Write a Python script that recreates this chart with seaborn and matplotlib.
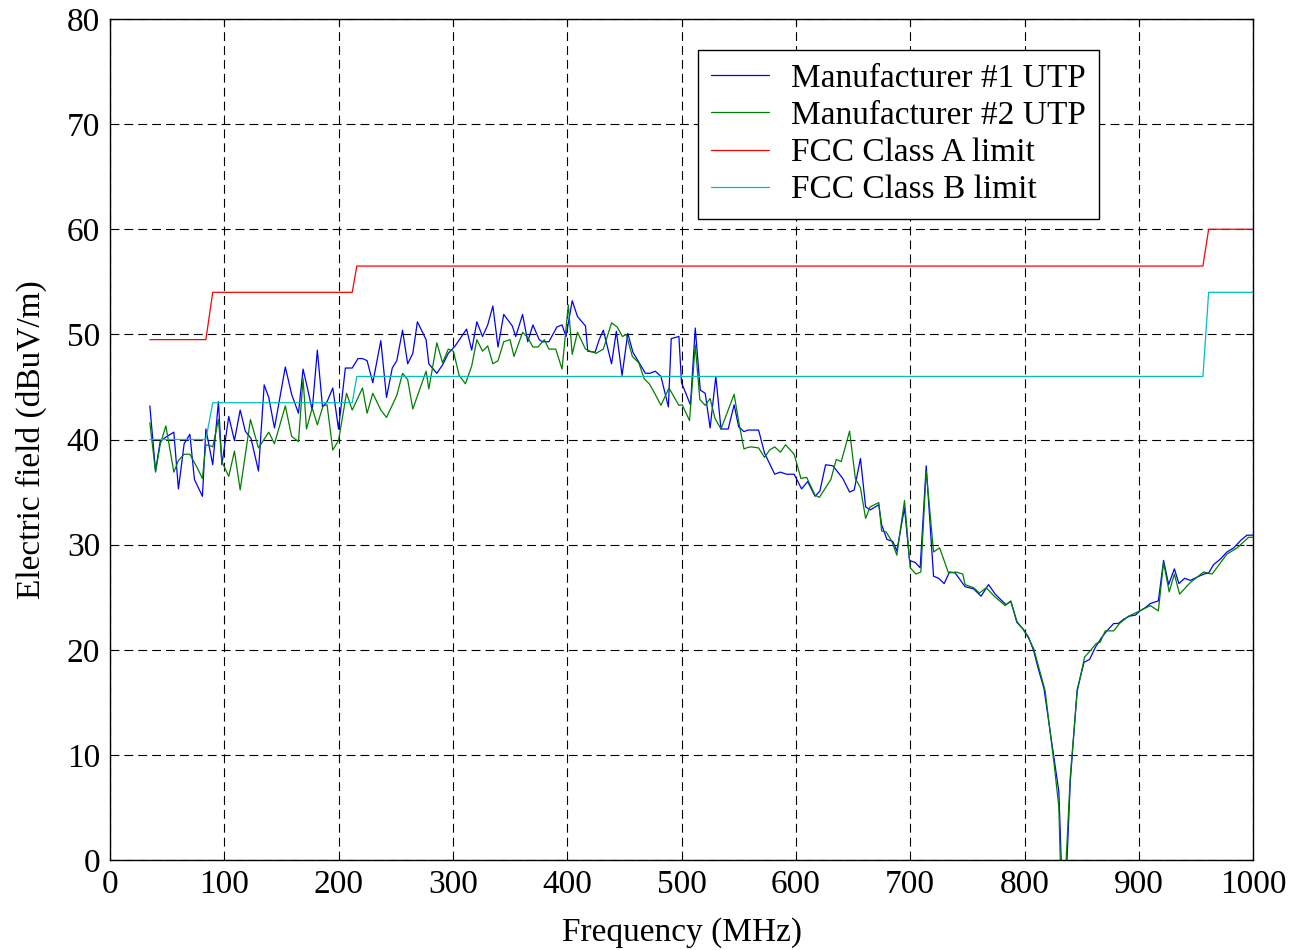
import matplotlib
matplotlib.use("Agg")
import matplotlib.pyplot as plt
import seaborn as sns
import pandas as pd

# ---- data ----
freq_m1 = [35, 40, 44, 48.5, 56, 60, 65, 70, 74, 81, 84, 90, 95, 98, 104, 109, 114, 118.5, 123.5, 130,
           135, 139, 144, 153.5, 159, 165, 169, 173, 177, 181.5, 186, 190, 195, 200, 206, 212, 217, 221,
           225, 230, 237, 242, 247, 251, 256, 260.5, 265, 269, 276.6, 279, 286, 291, 296, 302, 307, 312,
           316.5, 321, 326, 330.5, 335, 339.5, 344.5, 352, 355, 361, 365.5, 370, 375.5, 378.4, 384, 391,
           395.5, 399, 404.4, 409, 416, 418, 424.4, 428, 431.6, 438.8, 443, 448, 453, 457.5, 463, 468.4,
           472.4, 477, 482, 488.5, 491, 497.7, 500, 507.8, 512, 516.4, 520.7, 525, 530, 534.5, 540.8, 546,
           550, 554.6, 558, 562.4, 567.4, 572.6, 581.5, 586.5, 591.8, 598.5, 605, 610.3, 616.8, 621, 626,
           632.4, 641, 647, 651, 656.5, 661, 665, 672.5, 675, 679.6, 684.8, 688.3, 695, 699.4, 704.4,
           708.7, 714, 720.4, 724.8, 729.7, 734.4, 739.4, 748, 755.4, 762, 768.5, 774.3, 779.3, 783.7,
           788, 793.3, 798.5, 803.5, 808, 812, 817, 821, 826, 830, 833, 836, 840, 846, 852, 857, 862,
           867, 872, 878, 882, 886.6, 891.8, 897, 901, 905.5, 910, 917, 921.6, 926, 931, 935, 940, 945,
           950.7, 956.6, 961, 965.3, 971, 977, 983, 989, 994.5, 1000]
emi_m1 = [43.2, 37.0, 39.8, 40.2, 40.7, 35.3, 39.6, 40.5, 36.2, 34.6, 41.0, 37.6, 43.6, 37.6, 42.2, 39.9,
          42.8, 40.8, 40.1, 37.0, 45.2, 44.0, 41.1, 46.9, 44.3, 42.5, 46.7, 44.8, 42.8, 48.5, 43.1, 43.6,
          44.9, 41.0, 46.8, 46.8, 47.7, 47.7, 47.5, 45.4, 49.4, 44.0, 46.8, 47.5, 50.4, 47.2, 48.2, 51.2,
          49.5, 47.2, 46.3, 47.1, 48.2, 48.9, 49.7, 50.5, 48.5, 51.2, 49.8, 50.9, 52.7, 48.8, 51.9, 50.8,
          49.8, 51.9, 49.3, 50.9, 49.5, 49.3, 49.3, 50.7, 50.9, 49.8, 53.2, 51.7, 50.8, 48.4, 48.3, 49.5,
          50.4, 47.2, 50.3, 46.1, 50.1, 48.3, 47.3, 46.3, 46.3, 46.5, 46.0, 43.1, 49.6, 49.8, 45.4, 43.3,
          50.6, 44.7, 44.4, 41.1, 46.0, 41.0, 41.0, 43.3, 41.2, 40.75, 40.9, 40.9, 40.9, 38.7, 36.7, 36.9,
          36.7, 36.7, 35.3, 36.0, 34.6, 35.1, 37.6, 37.5, 36.3, 35.0, 35.2, 38.2, 33.6, 33.3, 33.8, 31.9,
          30.5, 30.3, 29.4, 33.5, 28.5, 28.3, 27.8, 37.5, 27.0, 26.8, 26.3, 27.4, 27.3, 26.0, 25.8, 25.1,
          26.2, 25.3, 24.75, 24.3, 24.6, 22.6, 22.0, 21.2, 19.9, 18.2, 16.3, 13.3, 9.5, 6.5, -3.0, -3.0,
          7.5, 16.2, 18.8, 19.1, 20.25, 21.1, 21.8, 22.5, 22.5, 22.9, 23.2, 23.3, 23.7, 24.0, 24.4, 24.65,
          28.5, 26.2, 27.7, 26.3, 26.8, 26.6, 26.9, 27.2, 27.3, 28.1, 28.6, 29.3, 29.7, 30.4, 30.9, 30.9]

freq_m2 = [35, 40, 44, 49, 56, 60, 65, 70, 76, 81, 84, 88, 90, 95, 98, 104, 109, 114, 123, 130, 139, 144,
           153.5, 159, 165, 169, 172, 177, 181.5, 186.5, 190, 195, 200, 207, 212, 221, 225, 230, 237, 242,
           251, 256, 260.5, 265, 276.6, 279, 286, 291, 296, 300.5, 305.5, 311, 316.5, 321, 326, 330.5,
           335, 339.5, 344.5, 350, 353.5, 361, 365.5, 370, 374.5, 380, 384, 390, 395.5, 401, 404.4, 409,
           416, 420, 425.3, 431.6, 438.8, 443.7, 448.3, 451.7, 457, 462.6, 467.5, 471.8, 477, 482, 489,
           497.7, 500.6, 507, 512, 516, 520.7, 525, 529.3, 534.5, 546, 550, 554.6, 558, 561, 567.4, 572.6,
           577, 581.5, 586.5, 591, 598.5, 604.4, 609.4, 616.8, 620.6, 630.6, 635.3, 639.7, 647, 652, 656.5,
           661, 665, 672.5, 675, 679, 684, 688.3, 695, 700, 705, 709.3, 714, 720.4, 725.7, 733.5, 740, 746,
           748, 755.4, 760.6, 766.5, 773.5, 783, 788, 793.3, 799, 803.5, 808, 812, 818, 822, 826, 830, 832,
           835, 840, 846, 852.5, 857.4, 862.7, 866, 870.6, 878, 883, 891, 898, 910, 917, 921.6, 926.5, 931,
           935.6, 945, 956.6, 964, 977, 986, 996, 1000]
emi_m2 = [41.6, 36.9, 39.5, 41.3, 36.9, 38.0, 38.6, 38.6, 37.4, 36.3, 39.5, 39.4, 39.3, 41.9, 37.9, 36.5,
          38.9, 35.2, 41.9, 39.2, 40.7, 39.6, 43.2, 40.3, 39.8, 45.8, 41.0, 43.0, 41.4, 43.2, 43.3, 39.0,
          39.9, 44.4, 42.8, 44.9, 42.5, 44.4, 42.8, 42.1, 44.2, 46.3, 45.7, 42.9, 46.5, 44.8, 49.2, 47.3,
          48.6, 48.4, 46.1, 45.3, 47.0, 49.5, 48.4, 48.9, 47.2, 47.5, 49.3, 49.5, 47.9, 50.2, 49.7, 48.8,
          48.8, 49.5, 48.6, 48.6, 46.7, 52.8, 48.1, 50.2, 48.6, 48.4, 48.2, 48.6, 51.1, 50.7, 49.8, 50.0,
          47.9, 47.3, 45.75, 45.3, 44.3, 43.25, 44.9, 43.25, 43.3, 41.8, 49.0, 43.8, 43.25, 43.9, 42.0,
          41.0, 44.3, 41.7, 39.1, 39.25, 39.3, 39.2, 38.3, 39.0, 39.3, 38.8, 39.5, 38.6, 36.3, 36.4, 34.7,
          34.5, 36.2, 38.1, 37.9, 40.8, 36.3, 35.4, 32.5, 33.6, 34.0, 31.3, 31.2, 30.3, 29.0, 34.2, 27.8,
          27.2, 27.4, 37.0, 29.3, 29.7, 27.3, 27.4, 27.2, 26.2, 25.9, 25.4, 25.9, 25.1, 24.2, 24.65, 22.7,
          21.9, 21.1, 20.1, 18.5, 16.1, 12.5, 9.0, 5.0, -3.0, -3.0, 8.0, 16.0, 19.3, 19.9, 20.6, 20.7,
          21.8, 21.8, 22.5, 23.2, 23.55, 24.2, 23.7, 28.3, 25.5, 27.2, 25.3, 26.4, 27.4, 27.2, 29.1, 29.7,
          30.7, 30.7]

freq_lim = [35, 84, 90, 212, 216, 956, 961, 1000]
limit_a = [49.5, 49.5, 54, 54, 56.5, 56.5, 60, 60]
limit_b = [40, 40, 43.5, 43.5, 46, 46, 54, 54]

labels = ["Manufacturer #1 UTP", "Manufacturer #2 UTP", "FCC Class A limit", "FCC Class B limit"]
colors = ["#0000FF", "#008000", "#FF0000", "#00BFBF"]
x_ticks = list(range(0, 1001, 100))
y_ticks = list(range(0, 81, 10))

# ---- plotting ----
sns.set_style("white")
plt.rcParams['font.family'] = ['Liberation Serif', 'DejaVu Serif']
plt.rcParams['font.size'] = 24
plt.rcParams['text.color'] = 'black'
plt.rcParams['axes.labelcolor'] = 'black'

fig = plt.figure(figsize=(12.92, 9.5), dpi=100)
ax = fig.add_axes([0.085, 0.0947, 0.885, 0.8853])

series = [
    (freq_m1, emi_m1),
    (freq_m2, emi_m2),
    (freq_lim, limit_a),
    (freq_lim, limit_b),
]
for (fx, fy), lab, col in zip(series, labels, colors):
    df = pd.DataFrame({"f": fx, "v": fy})
    sns.lineplot(data=df, x="f", y="v", ax=ax, color=col, linewidth=0.9,
                 label=lab, sort=False, estimator=None)

ax.set_xlim(0, 1000)
ax.set_ylim(0, 80)
ax.set_xticks(x_ticks)
ax.set_yticks(y_ticks)
ax.grid(True, color="black", linestyle=(0, (8, 4.5)), linewidth=0.8)
for sp in ax.spines.values():
    sp.set_color("black")
    sp.set_linewidth(1.0)
ax.tick_params(direction="in", length=5, width=0.8, colors="black", labelcolor="black",
               labelsize=24, pad=7, top=True, right=True)
ax.set_xlabel("Frequency (MHz)", fontsize=24, labelpad=12, color="black")
ax.set_ylabel("Electric field (dBuV/m)", fontsize=24, labelpad=14, color="black")

leg = ax.legend(loc="upper left", bbox_to_anchor=(0.514, 0.963), fontsize=24,
                frameon=True, fancybox=False, edgecolor="black", framealpha=1,
                handlelength=1.75, handletextpad=0.66, labelspacing=0.2, borderpad=0.4,
                borderaxespad=0)
leg.get_frame().set_linewidth(1.0)
for t in leg.get_texts():
    t.set_color("black")
for h in leg.get_lines():
    h.set_linewidth(0.9)

fig.savefig("out.png", dpi=100)
